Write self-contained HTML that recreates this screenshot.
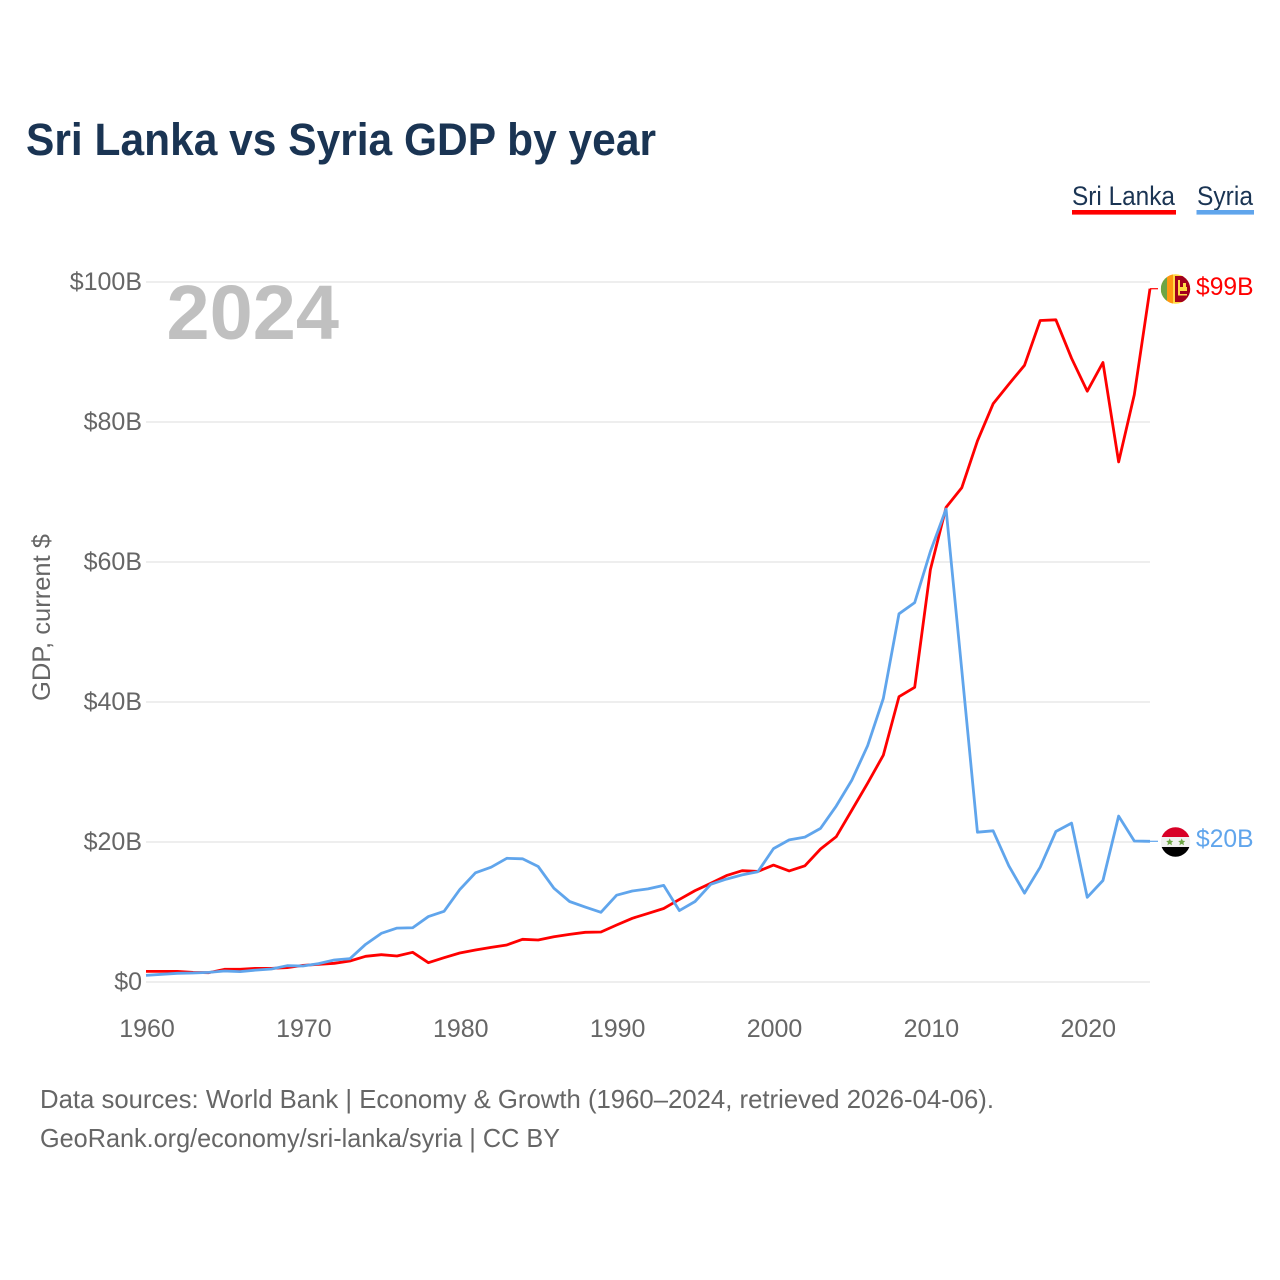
<!DOCTYPE html>
<html lang="en">
<head>
<meta charset="utf-8">
<title>Sri Lanka vs Syria GDP by year</title>
<style>
html,body{margin:0;padding:0;background:#fff;width:1280px;height:1280px;overflow:hidden}
svg{display:block}
text{font-family:"Liberation Sans",sans-serif}
</style>
</head>
<body>
<svg id="chart" xmlns="http://www.w3.org/2000/svg" width="1280" height="1280" viewBox="0 0 1280 1280">
  <rect x="0" y="0" width="1280" height="1280" fill="#fff"/>
  <text x="26" y="155" font-size="45" font-weight="700" fill="#1a3453" textLength="630" lengthAdjust="spacingAndGlyphs">Sri Lanka vs Syria GDP by year</text>

  <g>
    <text x="1072" y="205" font-size="27" fill="#1a3453" textLength="103" lengthAdjust="spacingAndGlyphs">Sri Lanka</text>
    <rect x="1072" y="210" width="104" height="4.6" fill="#ff0000"/>
  </g>
  <g>
    <text x="1197" y="205" font-size="27" fill="#1a3453" textLength="56" lengthAdjust="spacingAndGlyphs">Syria</text>
    <rect x="1196.5" y="210" width="57.5" height="4.6" fill="#60a5ec"/>
  </g>

  <g id="grid"></g>
  <g id="yticks"></g>
  <g id="xticks"></g>

  <text x="166.5" y="339" font-size="77" font-weight="700" fill="#c0c0c0" textLength="172.5" lengthAdjust="spacingAndGlyphs">2024</text>
  <text transform="translate(50,701) rotate(-90)" font-size="25" fill="#666" textLength="167" lengthAdjust="spacingAndGlyphs">GDP, current $</text>

  <g id="series"></g>

  <defs>
    <clipPath id="flag-clip-lk"><circle cx="1175.5" cy="289" r="14.7"/></clipPath>
    <clipPath id="flag-clip-sy"><circle cx="1175.5" cy="842" r="14.7"/></clipPath>
  </defs>
  <g clip-path="url(#flag-clip-lk)">
    <rect x="1160" y="274" width="31" height="30" fill="#ffda44"/>
    <rect x="1161" y="274" width="6" height="30" fill="#6da544"/>
    <rect x="1167" y="274" width="6" height="30" fill="#ff9811"/>
    <rect x="1175" y="276" width="16" height="26" fill="#a2001d"/>
    <rect x="1178" y="280" width="2" height="15" fill="#ffda44"/>
    <rect x="1179" y="287" width="8" height="4" fill="#ffda44"/>
    <rect x="1183" y="283" width="3" height="5" fill="#ffda44"/>
    <rect x="1178" y="294" width="9" height="1.5" fill="#ffda44"/>
  </g>
  <g clip-path="url(#flag-clip-sy)">
    <rect x="1160" y="826" width="31" height="11" fill="#d80027"/>
    <rect x="1160" y="837" width="31" height="10" fill="#f0f0f0"/>
    <rect x="1160" y="847" width="31" height="11" fill="#000"/>
    <polygon points="1169.7,838.4 1170.8,840.8 1173.2,841 1171.4,842.7 1172,845.2 1169.7,843.9 1167.4,845.2 1168,842.7 1166.2,841 1168.6,840.8" fill="#6da544"/>
    <polygon points="1181.7,838.4 1182.8,840.8 1185.2,841 1183.4,842.7 1184,845.2 1181.7,843.9 1179.4,845.2 1180,842.7 1178.2,841 1180.6,840.8" fill="#6da544"/>
  </g>

  <text x="1196" y="295" font-size="25" fill="#ff0000" textLength="57.5" lengthAdjust="spacingAndGlyphs">$99B</text>
  <text x="1196" y="847" font-size="25" fill="#60a5ec" textLength="57.5" lengthAdjust="spacingAndGlyphs">$20B</text>

  <text x="40" y="1108" font-size="26" fill="#666" textLength="954" lengthAdjust="spacingAndGlyphs">Data sources: World Bank | Economy &amp; Growth (1960–2024, retrieved 2026-04-06).</text>
  <text x="40" y="1147" font-size="26" fill="#666" textLength="520" lengthAdjust="spacingAndGlyphs">GeoRank.org/economy/sri-lanka/syria | CC BY</text>
</svg>
<script>
const years = [1960,1961,1962,1963,1964,1965,1966,1967,1968,1969,1970,1971,1972,1973,1974,1975,1976,1977,1978,1979,1980,1981,1982,1983,1984,1985,1986,1987,1988,1989,1990,1991,1992,1993,1994,1995,1996,1997,1998,1999,2000,2001,2002,2003,2004,2005,2006,2007,2008,2009,2010,2011,2012,2013,2014,2015,2016,2017,2018,2019,2020,2021,2022,2023,2024];
const sriLankaGdp = [1.52,1.52,1.52,1.38,1.33,1.81,1.81,1.95,1.95,2.05,2.38,2.52,2.67,3.0,3.67,3.9,3.71,4.24,2.76,3.47,4.14,4.57,4.95,5.29,6.1,6.0,6.47,6.8,7.1,7.14,8.14,9.1,9.8,10.5,11.8,13.05,14.1,15.2,15.9,15.8,16.7,15.86,16.6,19.0,20.76,24.57,28.4,32.4,40.76,42.1,58.9,67.8,70.6,77.3,82.6,85.4,88.1,94.5,94.6,89.1,84.4,88.5,74.3,83.9,99.04];
const syriaGdp = [0.95,1.1,1.24,1.29,1.38,1.57,1.48,1.7,1.86,2.33,2.29,2.62,3.14,3.33,5.38,6.95,7.7,7.75,9.35,10.1,13.2,15.6,16.4,17.67,17.6,16.5,13.4,11.5,10.7,9.95,12.4,13.0,13.3,13.8,10.2,11.5,13.95,14.7,15.3,15.75,19.05,20.3,20.7,21.95,25.14,28.86,33.76,40.5,52.6,54.2,61.5,67.57,44.6,21.4,21.6,16.6,12.7,16.4,21.5,22.7,12.1,14.5,23.7,20.14,20.1];
const yTickValues = [0,20,40,60,80,100];
const yTickLabels = ['$0','$20B','$40B','$60B','$80B','$100B'];
const xTickValues = [1960,1970,1980,1990,2000,2010,2020];

const NS = 'http://www.w3.org/2000/svg';
const xScale = function (year) { return 146 + (year - 1960) * (1150 - 146) / (2024 - 1960); };
const yScale = function (value) { return 982 - value * 7; };
const make = function (tag, parent) {
  const el = document.createElementNS(NS, tag);
  parent.appendChild(el);
  return el;
};

const gridGroup = document.getElementById('grid');
const yGroup = document.getElementById('yticks');
yTickValues.forEach(function (v, i) {
  const line = make('line', gridGroup);
  
  
  line.setAttribute('x1', 146);
  line.setAttribute('x2', 1150);
  line.setAttribute('y1', yScale(v));
  line.setAttribute('y2', yScale(v));
  line.setAttribute('stroke', '#e8e8e8');
  line.setAttribute('stroke-width', 1.4);
  const label = make('text', yGroup);
  
  
  label.setAttribute('x', 142);
  label.setAttribute('y', yScale(v) + 8);
  label.setAttribute('text-anchor', 'end');
  label.setAttribute('font-size', 25);
  label.setAttribute('fill', '#666');
  label.textContent = yTickLabels[i];
});

const xGroup = document.getElementById('xticks');
xTickValues.forEach(function (v) {
  const label = make('text', xGroup);
  
  
  label.setAttribute('x', xScale(v) + 1);
  label.setAttribute('y', 1037);
  label.setAttribute('text-anchor', 'middle');
  label.setAttribute('font-size', 25);
  label.setAttribute('fill', '#666');
  label.textContent = String(v);
});

const seriesGroup = document.getElementById('series');
const drawSeries = function (values, color, lineName, connectorName) {
  const pts = years.map(function (y, i) {
    return xScale(y).toFixed(2) + ',' + yScale(values[i]).toFixed(2);
  }).join(' ');
  const last = values[values.length - 1];
  const connector = make('line', seriesGroup);
  
  
  connector.setAttribute('x1', xScale(years[years.length - 1]));
  connector.setAttribute('x2', 1158);
  connector.setAttribute('y1', yScale(last));
  connector.setAttribute('y2', yScale(last));
  connector.setAttribute('stroke', color);
  connector.setAttribute('stroke-width', 1.2);
  const line = make('polyline', seriesGroup);
  
  
  line.setAttribute('points', pts);
  line.setAttribute('fill', 'none');
  line.setAttribute('stroke', color);
  line.setAttribute('stroke-width', 2.8);
  line.setAttribute('stroke-linejoin', 'round');
};
drawSeries(sriLankaGdp, '#ff0000', 'line-sri-lanka', 'connector-sri-lanka');
drawSeries(syriaGdp, '#60a5ec', 'line-syria', 'connector-syria');
</script>
</body>
</html>
